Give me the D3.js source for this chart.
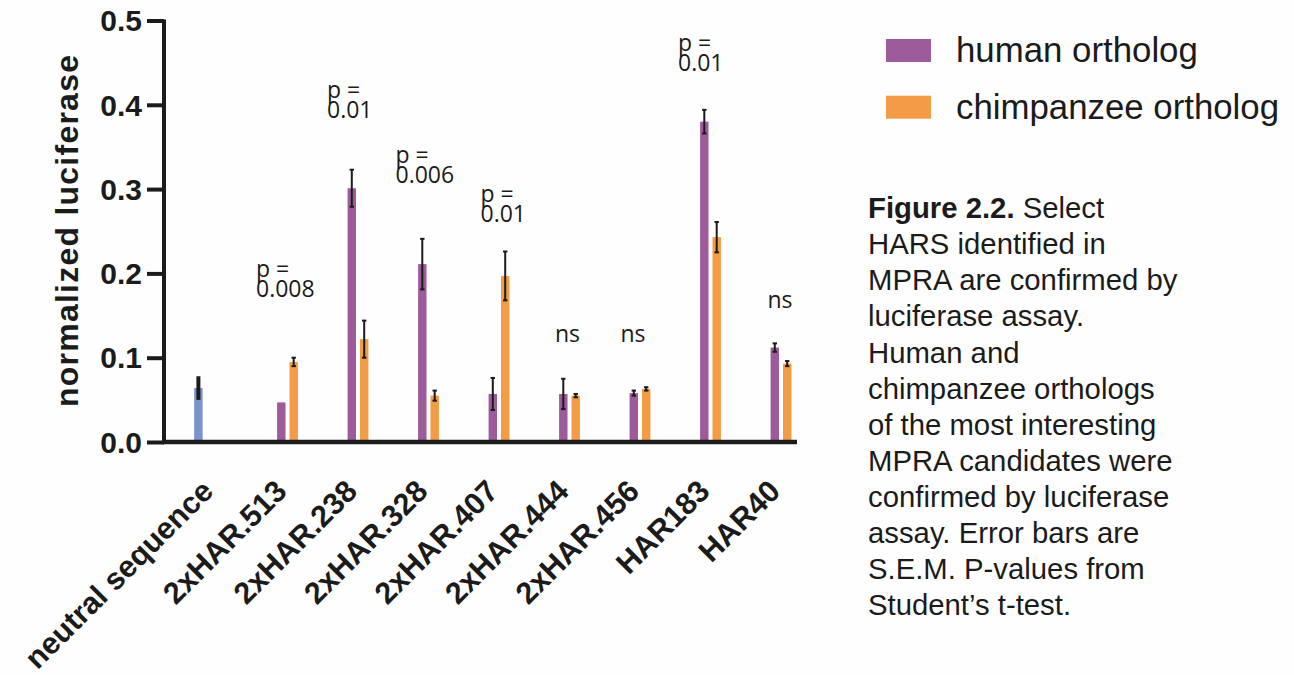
<!DOCTYPE html>
<html>
<head>
<meta charset="utf-8">
<script src="https://cdn.jsdelivr.net/npm/d3@7"></script>
<style>
  html, body { margin: 0; padding: 0; background: #fefefe; }
  svg { display: block; }
</style>
</head>
<body>
<svg id="chart" width="1294" height="675"></svg>
<script>
// Luciferase assay: normalized luciferase for human vs chimpanzee orthologs
const categories = ["neutral sequence", "2xHAR.513", "2xHAR.238", "2xHAR.328", "2xHAR.407",
                    "2xHAR.444", "2xHAR.456", "HAR183", "HAR40"];

// Neutral control (single bar)
const neutralValue = 0.064;
const neutralErr = 0.014;

// Human ortholog means and S.E.M. (null for the control group)
const humanValues = [null, 0.047, 0.301, 0.211, 0.057, 0.057, 0.058, 0.380, 0.112];
const humanErr    = [null, 0,     0.022, 0.030, 0.019, 0.018, 0.003, 0.014, 0.005];

// Chimpanzee ortholog means and S.E.M.
const chimpValues = [null, 0.095, 0.122, 0.055, 0.197, 0.055, 0.063, 0.243, 0.093];
const chimpErr    = [null, 0.005, 0.022, 0.006, 0.029, 0.002, 0.002, 0.018, 0.003];

// Significance annotations and the level (in data units) of their last line
const pLabels  = ["", "p = 0.008", "p = 0.01", "p = 0.006", "p = 0.01", "ns", "ns", "p = 0.01", "ns"];
const pLevels  = [0, 0.172, 0.384, 0.307, 0.261, 0.1186, 0.1186, 0.440, 0.159];

const yTicks = [0, 0.1, 0.2, 0.3, 0.4, 0.5];
const seriesNames = ["human ortholog", "chimpanzee ortholog"];
const captionLines = [
  ["Figure 2.2.", " Select"],
  ["", "HARS identified in"],
  ["", "MPRA are confirmed by"],
  ["", "luciferase assay."],
  ["", "Human and"],
  ["", "chimpanzee orthologs"],
  ["", "of the most interesting"],
  ["", "MPRA candidates were"],
  ["", "confirmed by luciferase"],
  ["", "assay. Error bars are"],
  ["", "S.E.M. P-values from"],
  ["", "Student\u2019s t-test."]
];

const colors = { human: "#9d5b9b", chimp: "#f49b46", neutral: "#7893cd" };
const ink = "#1b1b1b";

const svg = d3.select("#chart");

const x = d3.scalePoint().domain(categories).range([217, 781]);
const sub = d3.scaleBand().domain(["neutral", "human", "chimp"]).range([-24.8, 12.4]).paddingInner(0.32).paddingOuter(0.16);
const y = d3.scaleLinear().domain([0, 0.5]).range([442, 20.5]);

// Assemble bar records
const bars = [];
categories.forEach((c, i) => {
  if (i === 0) {
    bars.push({ cat: c, key: "neutral", v: neutralValue, e: neutralErr });
  } else {
    bars.push({ cat: c, key: "human", v: humanValues[i], e: humanErr[i] });
    bars.push({ cat: c, key: "chimp", v: chimpValues[i], e: chimpErr[i] });
  }
});

const bw = sub.bandwidth();
const g = svg.append("g");

g.selectAll("rect.bar").data(bars).join("rect")
  .attr("class", "bar")
  .attr("x", d => x(d.cat) + sub(d.key))
  .attr("width", bw)
  .attr("y", d => y(d.v))
  .attr("height", d => y(0) - y(d.v))
  .attr("fill", d => colors[d.key]);

// Error bars
const eb = g.selectAll("g.err").data(bars.filter(d => d.e > 0)).join("g").attr("class", "err");
eb.append("line")
  .attr("x1", d => x(d.cat) + sub(d.key) + bw / 2)
  .attr("x2", d => x(d.cat) + sub(d.key) + bw / 2)
  .attr("y1", d => y(d.v + d.e))
  .attr("y2", d => y(d.v - d.e))
  .attr("stroke", ink)
  .attr("stroke-width", d => d.key === "neutral" ? 4 : 2);
eb.filter(d => d.key !== "neutral").each(function(d) {
  const cx = x(d.cat) + sub(d.key) + bw / 2;
  [d.v + d.e, d.v - d.e].forEach(val => {
    d3.select(this).append("line")
      .attr("x1", cx - 2.2).attr("x2", cx + 2.2)
      .attr("y1", y(val)).attr("y2", y(val))
      .attr("stroke", ink).attr("stroke-width", 2);
  });
});

// Y axis
const yAxis = svg.append("g")
  .attr("transform", "translate(164,0)")
  .call(d3.axisLeft(y).tickValues(yTicks).tickFormat(d3.format(".1f")).tickSize(17).tickPadding(5));
yAxis.select(".domain").attr("stroke", ink).attr("stroke-width", 4)
  .attr("d", `M0,${y(0.5) - 1}V${y(0) + 2}`);
yAxis.selectAll(".tick line").attr("stroke", ink).attr("stroke-width", 4);
yAxis.selectAll(".tick text")
  .attr("fill", ink)
  .style("font-family", "Liberation Sans, Arial, sans-serif")
  .style("font-weight", "bold")
  .style("font-size", "30px")
  .attr("dy", "0.34em");

// X axis baseline
svg.append("line")
  .attr("x1", 162).attr("x2", 797)
  .attr("y1", y(0)).attr("y2", y(0))
  .attr("stroke", ink).attr("stroke-width", 4.5);

// Category labels
svg.selectAll("text.xlab").data(categories).join("text")
  .attr("class", "xlab")
  .attr("transform", (d, i) => `translate(${x(d) + (i === 0 ? -2 : 1)},493) rotate(-45)`)
  .attr("text-anchor", "end")
  .attr("fill", ink)
  .style("font-family", "Liberation Sans, Arial, sans-serif")
  .style("font-weight", "bold")
  .style("font-size", "30.5px")
  .text(d => d);

// Y axis title
svg.append("text")
  .attr("transform", `translate(78,231) rotate(-90)`)
  .attr("text-anchor", "middle")
  .attr("fill", ink)
  .style("font-family", "Liberation Sans, Arial, sans-serif")
  .style("font-weight", "bold")
  .style("font-size", "32px")
  .attr("textLength", 352)
  .attr("lengthAdjust", "spacing")
  .text("normalized luciferase");

// Significance annotations
const annotDx = [0, -31.5, -31, -33, -18.5, -2, -7, -32.5, -1];
categories.forEach((c, i) => {
  const label = pLabels[i];
  if (!label) return;
  const base = y(pLevels[i]);
  const t = svg.append("text")
    .attr("fill", ink)
    .style("font-family", "Open Sans, sans-serif")
    .style("font-size", "23px");
  if (label === "ns") {
    t.attr("x", x(c) + annotDx[i]).attr("y", base).attr("text-anchor", "middle").text(label);
  } else {
    const parts = label.split(" = ");
    const left = x(c) + annotDx[i];
    t.append("tspan").attr("x", left).attr("y", base - 20).text("p =");
    t.append("tspan").attr("x", left).attr("y", base).text(parts[1]);
  }
});

// Legend
const legend = svg.append("g");
const legendKeys = ["human", "chimp"];
legendKeys.forEach((k, i) => {
  const top = 39 + i * 56.7;
  legend.append("rect")
    .attr("x", 886).attr("y", top).attr("width", 45).attr("height", 23)
    .attr("fill", colors[k]);
  legend.append("text")
    .attr("x", 956).attr("y", top + 23)
    .attr("fill", ink)
    .style("font-family", "Liberation Sans, Arial, sans-serif")
    .style("font-size", "34.8px")
    .text(seriesNames[i]);
});

// Caption
const cap = svg.append("text")
  .attr("fill", ink)
  .style("font-family", "Liberation Sans, Arial, sans-serif")
  .style("font-size", "29.3px");
captionLines.forEach((ln, i) => {
  const ts = cap.append("tspan").attr("x", 868).attr("y", 218.3 + i * 36.06);
  if (ln[0]) {
    ts.style("font-weight", "bold").text(ln[0]);
    cap.append("tspan").text(ln[1]);
  } else {
    ts.text(ln[1]);
  }
});
</script>
</body>
</html>
